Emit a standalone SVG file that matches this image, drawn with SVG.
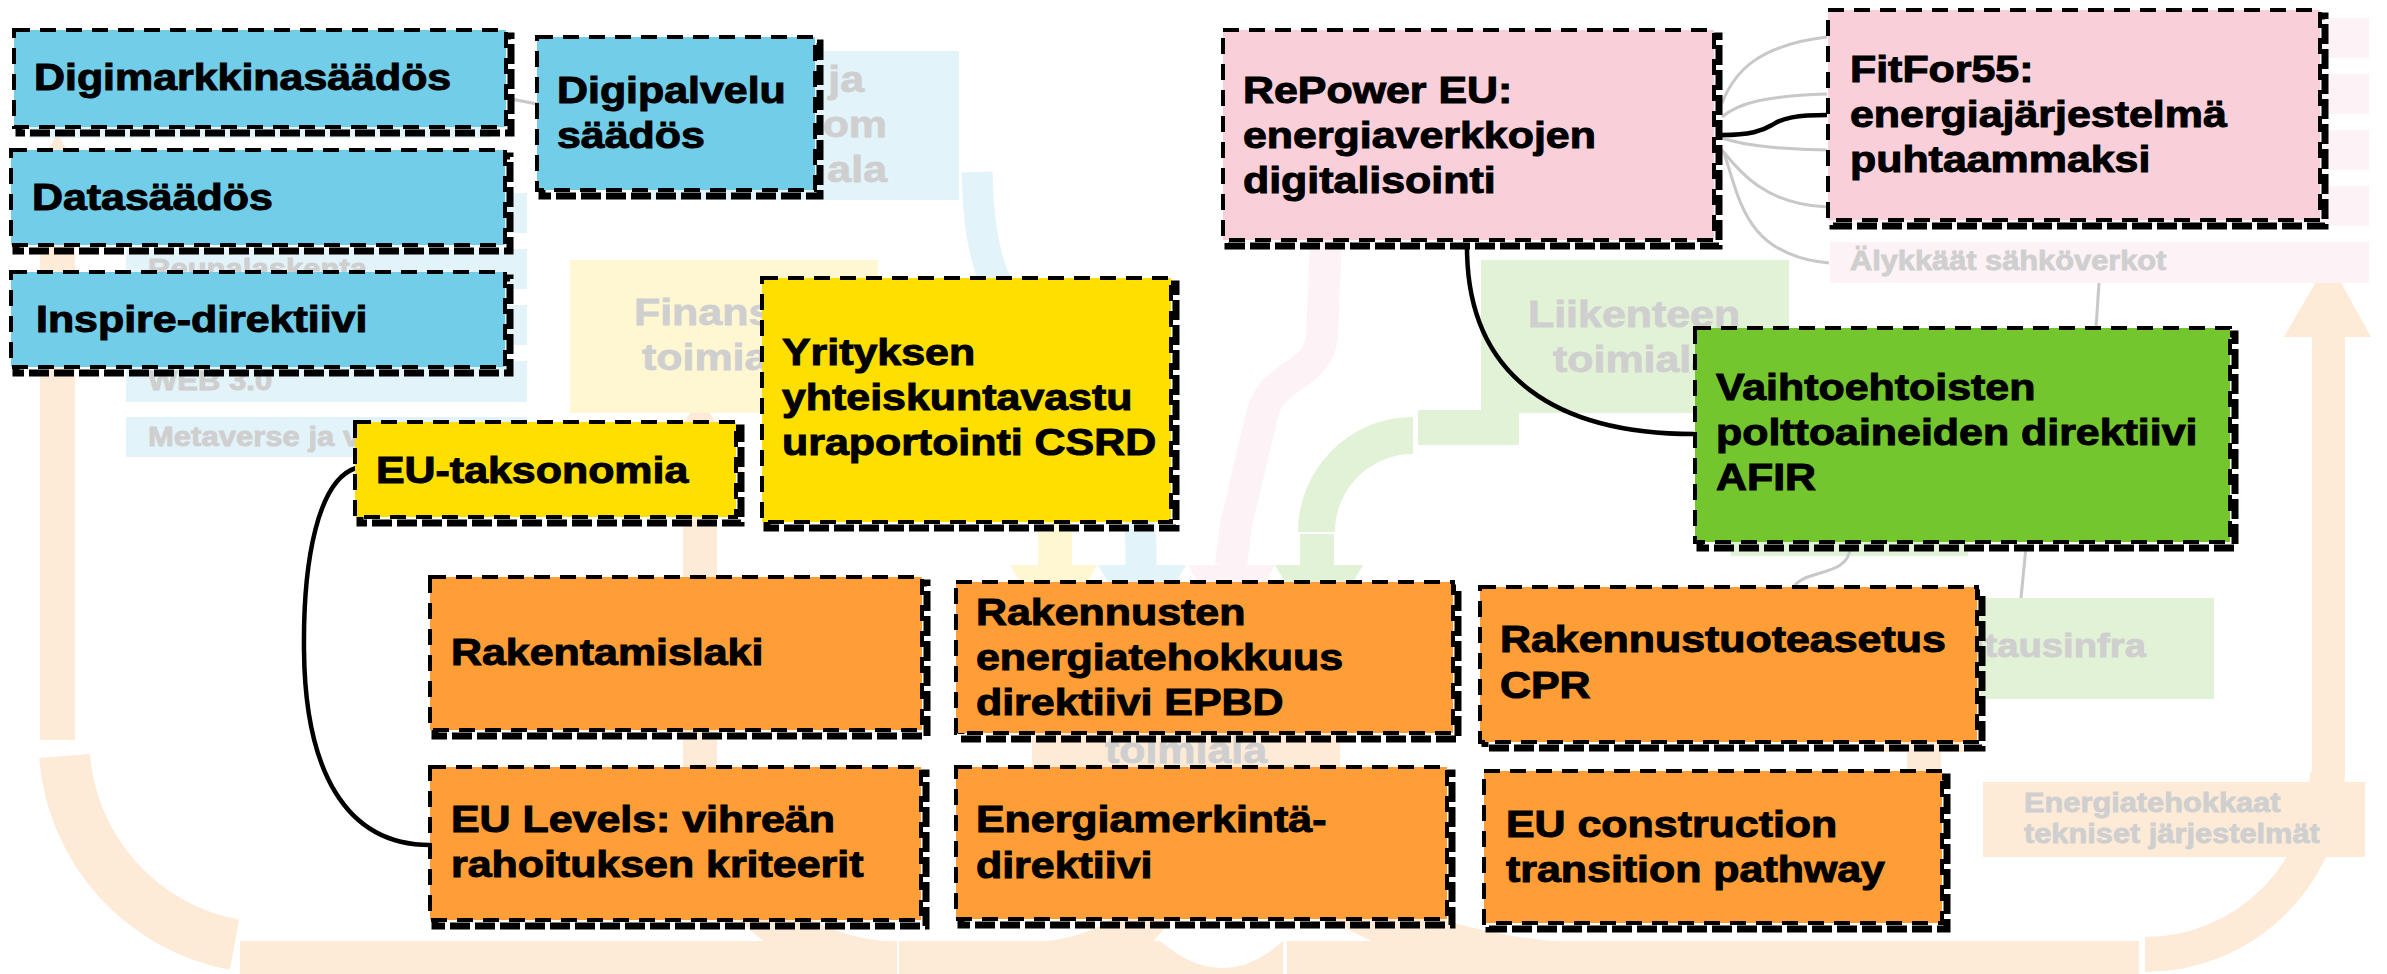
<svg xmlns="http://www.w3.org/2000/svg" width="2387" height="974" viewBox="0 0 2387 974">
<defs>
<style>
.pch{fill:#FDEBD8}
.pchs{fill:none;stroke:#FDEBD8}
.fblue{fill:#E2F3FA}
.fyel{fill:#FFF7D2}
.fpink{fill:#FDF2F5}
.fgrn{fill:#E2F2D6}
.ft{font-family:"Liberation Sans",Arial,sans-serif;font-weight:bold;font-size:37px;fill:#CFCFCF;stroke:#CFCFCF;stroke-width:0.8}
.fs{font-size:27px}
.t{font-family:"Liberation Sans",Arial,sans-serif;font-weight:bold;font-size:37px;fill:#000;stroke:#000;stroke-width:1}
.sh{fill:none;stroke:#000;stroke-width:7;stroke-dasharray:20 5}
.bx{stroke:#000;stroke-width:4;stroke-dasharray:16 10}
.blue .bx{fill:#72CDE8}
.yel .bx{fill:#FFDF00}
.pink .bx{fill:#F9D0DA}
.grn .bx{fill:#73C62E}
.org .bx{fill:#FF9D36}
.gc{fill:none;stroke:#C8C8C8;stroke-width:3}
.bc{fill:none;stroke:#000;stroke-width:4.5}
</style>
</defs>
<rect width="2387" height="974" fill="#fff"/>

<g id="background">
  <!-- peach cycle -->
  <polygon class="pch" points="57.5,133 101,210 14,210"/>
  <rect class="pch" x="40" y="209" width="35" height="531"/>
  <path class="pchs" d="M 64.6 756 A 208 208 0 0 0 234.5 944.6" stroke-width="51"/>
  <rect class="pch" x="240" y="941" width="657" height="51"/>
  <rect class="pch" x="899" y="941" width="384" height="51"/>
  <rect class="pch" x="1287" y="941" width="852" height="51"/>
  <path d="M 1160 941 Q 1223 995 1283 941 Z" fill="#fff"/>
  <path class="pchs" d="M 1000 966 C 1120 966 1170 930 1186 790" stroke-width="45"/>
  <path class="pchs" d="M 1600 966 C 1500 966 1300 930 1240 790" stroke-width="45"/>
  <path class="pchs" d="M 2327.5 772 A 182.5 182.5 0 0 1 2145 954.5" stroke-width="35"/>
  <rect class="pch" x="2312" y="336" width="33" height="437"/>
  <polygon class="pch" points="2328.5,260 2371,337 2284,337"/>
  <!-- up arrow to finance -->
  <polygon class="pch" points="700,395 743,472 657,472"/>
  <rect class="pch" x="683" y="471" width="34" height="297"/>
  <path class="pchs" d="M 700 767 A 197 197 0 0 0 897 964" stroke-width="45"/>
  <!-- up arrow between CPR and EU construction -->
  <polygon class="pch" points="1924,675 1967,752 1881,752"/>
  <rect class="pch" x="1907" y="751" width="34" height="50"/>
  <!-- hub -->
  <rect class="pch" x="1032" y="600" width="308" height="190"/>
  <text class="ft" text-anchor="middle" transform="matrix(1.16 0 0 1 1186 763)">toimiala</text>

  <!-- blue area -->
  <rect class="fblue" x="29" y="80" width="462" height="58"/>
  <rect class="fblue" x="126" y="193" width="401" height="40"/>
  <rect class="fblue" x="126" y="249" width="401" height="40"/>
  <rect class="fblue" x="126" y="305" width="401" height="40"/>
  <rect class="fblue" x="126" y="361" width="401" height="41"/>
  <rect class="fblue" x="126" y="417" width="401" height="40"/>
  <text class="ft fs" transform="matrix(1.15 0 0 1 148 278)">Reunalaskenta</text>
  <text class="ft fs" transform="matrix(1.15 0 0 1 148 390)">WEB 3.0</text>
  <text class="ft fs" transform="matrix(1.15 0 0 1 148 446)">Metaverse ja v</text>
  <rect class="fblue" x="651" y="51" width="308" height="149"/>
  <text class="ft" text-anchor="end" transform="matrix(1.16 0 0 1 864 92)">ja</text>
  <text class="ft" text-anchor="end" transform="matrix(1.16 0 0 1 887 137)">om</text>
  <text class="ft" text-anchor="end" transform="matrix(1.16 0 0 1 887 182)">ala</text>
  <path fill="none" stroke="#E2F3FA" stroke-width="31" d="M 977 172 C 980 260 990 300 1060 360 S 1141 450 1141 566"/>
  <polygon class="fblue" points="1098,565 1186,565 1142,642"/>

  <!-- yellow area -->
  <rect class="fyel" x="570" y="260" width="308" height="153"/>
  <text class="ft" transform="matrix(1.16 0 0 1 634 325)">Finanssi</text>
  <text class="ft" transform="matrix(1.16 0 0 1 642 370)">toimiala</text>
  <rect class="fyel" x="1038" y="413" width="34" height="153"/>
  <polygon class="fyel" points="1010,565 1097,565 1055,642"/>

  <!-- pink area -->
  <rect class="fpink" x="1830" y="18" width="539" height="40"/>
  <rect class="fpink" x="1830" y="74" width="539" height="40"/>
  <rect class="fpink" x="1830" y="130" width="539" height="40"/>
  <rect class="fpink" x="1830" y="186" width="539" height="40"/>
  <rect class="fpink" x="1830" y="242" width="539" height="41"/>
  <text class="ft fs" transform="matrix(1.14 0 0 1 1850 270)">Älykkäät sähköverkot</text>
  <path fill="none" stroke="#FDF2F5" stroke-width="32" stroke-linejoin="round" d="M 1326 240 L 1322 335 C 1319 378 1272 372 1262 415 L 1236 525 L 1231 566"/>
  <polygon class="fpink" points="1188,565 1275,565 1231,642"/>

  <!-- green area -->
  <rect class="fgrn" x="1481" y="260" width="308" height="153"/>
  <text class="ft" transform="matrix(1.16 0 0 1 1528 327)">Liikenteen</text>
  <text class="ft" transform="matrix(1.16 0 0 1 1553 372)">toimiala</text>
  <rect class="fgrn" x="1418" y="410" width="101" height="35"/>
  <path fill="none" stroke="#E2F2D6" stroke-width="37" d="M 1413 435.5 A 96.5 96.5 0 0 0 1316.5 532"/>
  <rect class="fgrn" x="1300" y="534" width="34" height="32"/>
  <polygon class="fgrn" points="1275,565 1363,565 1319,642"/>
  <rect class="fgrn" x="1731" y="500" width="237" height="56"/>
  <rect class="fgrn" x="1890" y="598" width="324" height="101"/>
  <text class="ft" text-anchor="end" font-size="33" transform="matrix(1.16 0 0 1 2146 657)" style="font-size:33px">Latausinfra</text>

  <!-- energy-efficient systems -->
  <rect class="pch" x="1983" y="782" width="382" height="75"/>
  <text class="ft fs" transform="matrix(1.14 0 0 1 2024 812)"><tspan x="0" y="0">Energiatehokkaat</tspan><tspan x="0" y="31">tekniset järjestelmät</tspan></text>
</g>

<g id="connectors">
  <path class="gc" d="M 506 98 L 537 104"/>
  <path class="gc" d="M 1722 103 C 1735 70 1760 45 1827 37"/>
  <path class="gc" d="M 1722 117 C 1738 103 1765 96 1827 94"/>
  <path class="gc" d="M 1722 138 C 1745 146 1790 150 1827 150"/>
  <path class="gc" d="M 1722 150 C 1738 170 1765 205 1827 207"/>
  <path class="gc" d="M 1724 153 C 1740 200 1745 255 1829 263"/>
  <path class="gc" d="M 2099 283 L 2096 328"/>
  <path class="gc" d="M 1850 547 C 1850 578 1800 568 1792 590"/>
  <path class="gc" d="M 2026 547 L 2021 598"/>
  <path class="bc" d="M 356 468 C 318 480 303 560 304 650 C 305 770 345 845 430 845"/>
  <path class="bc" d="M 1467 247 C 1467 380 1560 434 1694 434"/>
  <path class="bc" d="M 1722 135 C 1750 135 1762 131 1772 125 C 1782 118 1797 115 1827 115"/>
</g>

<g id="n-digimarkkina" class="blue">
  <rect class="sh" x="19" y="36" width="492" height="97"/>
  <rect class="bx" x="14" y="30" width="492" height="97"/>
  <text class="t" transform="matrix(1.16 0 0 1 34 90)">Digimarkkinasäädös</text>
</g>
<g id="n-digipalvelu" class="blue">
  <rect class="sh" x="542" y="43" width="278" height="153"/>
  <rect class="bx" x="537" y="37" width="278" height="153"/>
  <text class="t" transform="matrix(1.16 0 0 1 557 103)"><tspan x="0" y="0">Digipalvelu</tspan><tspan x="0" y="45">säädös</tspan></text>
</g>
<g id="n-data" class="blue">
  <rect class="sh" x="16" y="156" width="494" height="95"/>
  <rect class="bx" x="11" y="150" width="494" height="95"/>
  <text class="t" transform="matrix(1.16 0 0 1 32 210)">Datasäädös</text>
</g>
<g id="n-inspire" class="blue">
  <rect class="sh" x="16" y="278" width="494" height="95"/>
  <rect class="bx" x="11" y="272" width="494" height="95"/>
  <text class="t" transform="matrix(1.16 0 0 1 36 332)">Inspire-direktiivi</text>
</g>
<g id="n-taksonomia" class="yel">
  <rect class="sh" x="360" y="428" width="381" height="95"/>
  <rect class="bx" x="355" y="422" width="381" height="95"/>
  <text class="t" transform="matrix(1.16 0 0 1 376 483)">EU-taksonomia</text>
</g>
<g id="n-csrd" class="yel">
  <rect class="sh" x="767" y="284" width="409" height="244"/>
  <rect class="bx" x="762" y="278" width="409" height="244"/>
  <text class="t" transform="matrix(1.16 0 0 1 782 365)"><tspan x="0" y="0">Yrityksen</tspan><tspan x="0" y="45">yhteiskuntavastu</tspan><tspan x="0" y="90">uraportointi CSRD</tspan></text>
</g>
<g id="n-repower" class="pink">
  <rect class="sh" x="1228" y="36" width="491" height="210"/>
  <rect class="bx" x="1223" y="30" width="491" height="210"/>
  <text class="t" transform="matrix(1.16 0 0 1 1243 103)"><tspan x="0" y="0">RePower EU:</tspan><tspan x="0" y="45">energiaverkkojen</tspan><tspan x="0" y="90">digitalisointi</tspan></text>
</g>
<g id="n-fitfor55" class="pink">
  <rect class="sh" x="1833" y="16" width="492" height="210"/>
  <rect class="bx" x="1828" y="10" width="492" height="210"/>
  <text class="t" transform="matrix(1.16 0 0 1 1850 82)"><tspan x="0" y="0">FitFor55:</tspan><tspan x="0" y="45">energiajärjestelmä</tspan><tspan x="0" y="90">puhtaammaksi</tspan></text>
</g>
<g id="n-afir" class="grn">
  <rect class="sh" x="1700" y="334" width="535" height="214"/>
  <rect class="bx" x="1695" y="328" width="535" height="214"/>
  <text class="t" transform="matrix(1.16 0 0 1 1716 400)"><tspan x="0" y="0">Vaihtoehtoisten</tspan><tspan x="0" y="45">polttoaineiden direktiivi</tspan><tspan x="0" y="90">AFIR</tspan></text>
</g>
<g id="n-rakentamislaki" class="org">
  <rect class="sh" x="435" y="583" width="492" height="153"/>
  <rect class="bx" x="430" y="577" width="492" height="153"/>
  <text class="t" transform="matrix(1.16 0 0 1 451 665)">Rakentamislaki</text>
</g>
<g id="n-epbd" class="org">
  <rect class="sh" x="961" y="588" width="497" height="151"/>
  <rect class="bx" x="956" y="582" width="497" height="151"/>
  <text class="t" transform="matrix(1.16 0 0 1 976 625)"><tspan x="0" y="0">Rakennusten</tspan><tspan x="0" y="45">energiatehokkuus</tspan><tspan x="0" y="90">direktiivi EPBD</tspan></text>
</g>
<g id="n-cpr" class="org">
  <rect class="sh" x="1485" y="593" width="497" height="155"/>
  <rect class="bx" x="1480" y="587" width="497" height="155"/>
  <text class="t" transform="matrix(1.16 0 0 1 1500 652)"><tspan x="0" y="0">Rakennustuoteasetus</tspan><tspan x="0" y="46">CPR</tspan></text>
</g>
<g id="n-eulevels" class="org">
  <rect class="sh" x="435" y="773" width="491" height="153"/>
  <rect class="bx" x="430" y="767" width="491" height="153"/>
  <text class="t" transform="matrix(1.16 0 0 1 451 832)"><tspan x="0" y="0">EU Levels: vihreän</tspan><tspan x="0" y="45">rahoituksen kriteerit</tspan></text>
</g>
<g id="n-energiamerkinta" class="org">
  <rect class="sh" x="961" y="773" width="491" height="152"/>
  <rect class="bx" x="956" y="767" width="491" height="152"/>
  <text class="t" transform="matrix(1.16 0 0 1 976 832)"><tspan x="0" y="0">Energiamerkintä-</tspan><tspan x="0" y="46">direktiivi</tspan></text>
</g>
<g id="n-euconstruction" class="org">
  <rect class="sh" x="1489" y="777" width="458" height="152"/>
  <rect class="bx" x="1484" y="771" width="458" height="152"/>
  <text class="t" transform="matrix(1.16 0 0 1 1506 837)"><tspan x="0" y="0">EU construction</tspan><tspan x="0" y="45">transition pathway</tspan></text>
</g>
</svg>
